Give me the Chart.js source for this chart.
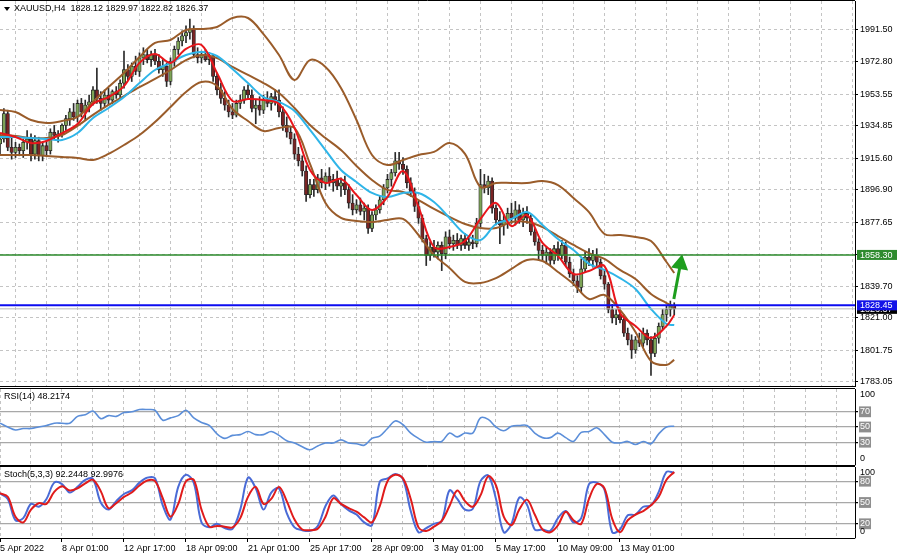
<!DOCTYPE html>
<html>
<head>
<meta charset="utf-8">
<title>XAUUSD H4</title>
<script src="https://cdn.jsdelivr.net/npm/chart.js@4.4.1/dist/chart.umd.min.js"></script>
<style>
  html, body { margin: 0; padding: 0; background: #fff; }
  #wrap { position: relative; width: 900px; height: 560px; overflow: hidden; }
  .pane { position: absolute; left: 0; width: 900px; }
</style>
</head>
<body>
<div id="wrap">
  <div class="pane" style="top:0;height:387px"><canvas id="price"></canvas></div>
  <div class="pane" style="top:388px;height:78px"><canvas id="rsi"></canvas></div>
  <div class="pane" style="top:466px;height:94px"><canvas id="stoch"></canvas></div>
</div>
<script>
// captions
const symbolName = 'XAUUSD,H4';
const rsiCaption = 'RSI(14) 48.2174';
const stochCaption = 'Stoch(5,3,3) 92.2448 92.9976';

// time axis labels, one every 16 bars
const xTickLabels = ['5 Apr 2022', '8 Apr 01:00', '12 Apr 17:00', '18 Apr 09:00', '21 Apr 01:00',
  '25 Apr 17:00', '28 Apr 09:00', '3 May 01:00', '5 May 17:00', '10 May 09:00', '13 May 01:00'];
const barsPerLabel = 16;
const barsPerGrid = 8;
const windowBars = 220.65; // bars that fit in the window (chart shift leaves room on the right)

const priceTicks = [1991.50, 1972.80, 1953.55, 1934.85, 1915.60, 1896.90, 1877.65, 1858.30,
  1839.70, 1821.00, 1801.75, 1783.05];
const priceMin = 1780.68;
const priceMax = 2008.67;
const rsiLevels = [30, 50, 70];
const stochLevels = [20, 50, 80];

// H4 candles
const opens = [
  1924, 1927, 1942, 1922, 1919, 1922, 1920, 1925, 1927, 1918,
  1926, 1917, 1923, 1920, 1931, 1929, 1930, 1935, 1939, 1943,
  1940, 1948, 1943, 1947, 1949, 1956, 1951, 1948, 1953, 1950,
  1955, 1953, 1960, 1968, 1964, 1970, 1967, 1975, 1977, 1974,
  1977, 1973, 1968, 1970, 1961, 1973, 1980, 1985, 1988, 1990,
  1992, 1977, 1975, 1977, 1974, 1976, 1964, 1956, 1951, 1947,
  1943, 1941, 1948, 1950, 1956, 1953, 1945, 1947, 1944, 1950,
  1948, 1952, 1950, 1943, 1935, 1931, 1927, 1918, 1914, 1908,
  1894, 1900, 1897, 1904, 1901, 1905, 1901, 1903, 1899, 1901,
  1897, 1889, 1885, 1888, 1884, 1886, 1874, 1882, 1885, 1891,
  1898, 1903, 1907, 1914, 1912, 1909, 1901, 1895, 1887, 1880,
  1868, 1858, 1863, 1860, 1864, 1859, 1869, 1865, 1867, 1864,
  1868, 1864, 1866, 1865, 1877, 1900, 1898, 1902, 1886, 1879,
  1876, 1879, 1883, 1880, 1885, 1879, 1883, 1880, 1872, 1866,
  1861, 1858, 1860, 1855, 1862, 1858, 1864, 1854, 1847, 1843,
  1839, 1850, 1857, 1855, 1858, 1854, 1846, 1841, 1826, 1821,
  1823, 1820, 1812, 1808, 1802, 1808, 1806, 1812, 1808, 1800,
  1809, 1816, 1823, 1826, 1828.12
];
const highs = [
  1930, 1945, 1944, 1928, 1925, 1924, 1927, 1932, 1930, 1929,
  1928, 1925, 1926, 1933, 1935, 1932, 1936, 1941, 1945, 1948,
  1950, 1951, 1950, 1953, 1958, 1969, 1955, 1956, 1957, 1956,
  1958, 1962, 1979, 1971, 1972, 1976, 1978, 1981, 1980, 1979,
  1980, 1977, 1974, 1972, 1975, 1982, 1987, 1991, 1994, 1998,
  1994, 1981, 1979, 1980, 1978, 1977, 1966, 1960, 1955, 1950,
  1948, 1950, 1953, 1958, 1959, 1956, 1950, 1952, 1953, 1955,
  1954, 1956, 1956, 1946, 1940, 1934, 1930, 1922, 1917, 1911,
  1903, 1903, 1906, 1909, 1907, 1910, 1906, 1908, 1904, 1905,
  1900, 1894, 1891, 1892, 1889, 1888, 1884, 1888, 1893, 1900,
  1906, 1909, 1919, 1919, 1916, 1911, 1904, 1898, 1890, 1882,
  1870, 1866, 1867, 1866, 1866, 1872, 1873, 1870, 1871, 1870,
  1871, 1869, 1870, 1880, 1909, 1906, 1905, 1904, 1888, 1884,
  1882, 1886, 1889, 1890, 1888, 1886, 1887, 1882, 1874, 1868,
  1864, 1863, 1862, 1864, 1866, 1867, 1866, 1857, 1850, 1846,
  1856, 1860, 1862, 1861, 1862, 1856, 1849, 1842, 1829, 1826,
  1827, 1823, 1815, 1811, 1810, 1812, 1815, 1814, 1810, 1812,
  1818, 1826, 1828, 1831, 1829.97
];
const lows = [
  1918, 1925, 1920, 1915, 1916, 1917, 1916, 1921, 1914, 1915,
  1914, 1914, 1917, 1918, 1927, 1925, 1928, 1932, 1935, 1938,
  1937, 1940, 1938, 1943, 1947, 1948, 1944, 1946, 1947, 1948,
  1951, 1951, 1957, 1962, 1961, 1965, 1964, 1971, 1972, 1970,
  1971, 1966, 1964, 1958, 1959, 1970, 1977, 1982, 1984, 1986,
  1975, 1972, 1972, 1973, 1971, 1961, 1953, 1948, 1944, 1940,
  1939, 1940, 1945, 1948, 1951, 1943, 1936, 1941, 1942, 1946,
  1944, 1947, 1940, 1932, 1928, 1924, 1915, 1911, 1905, 1890,
  1892, 1893, 1895, 1898, 1897, 1899, 1896, 1897, 1893, 1894,
  1886, 1882, 1883, 1882, 1879, 1871, 1872, 1879, 1883, 1888,
  1895, 1899, 1905, 1909, 1906, 1898, 1893, 1884, 1877, 1866,
  1852, 1855, 1857, 1856, 1849, 1856, 1862, 1861, 1862, 1861,
  1862, 1861, 1862, 1863, 1875, 1895, 1894, 1883, 1876, 1865,
  1870, 1874, 1877, 1876, 1877, 1875, 1877, 1870, 1864, 1855,
  1855, 1853, 1852, 1853, 1855, 1856, 1852, 1845, 1840, 1836,
  1836, 1848, 1852, 1851, 1852, 1844, 1838, 1824, 1818, 1817,
  1818, 1810, 1805, 1797, 1800, 1804, 1804, 1805, 1787, 1798,
  1806, 1814, 1819, 1822, 1822.82
];
const closes = [
  1927, 1942, 1922, 1919, 1922, 1920, 1925, 1927, 1918, 1926,
  1917, 1923, 1920, 1931, 1929, 1930, 1935, 1939, 1943, 1940,
  1948, 1943, 1947, 1949, 1956, 1951, 1948, 1953, 1950, 1955,
  1953, 1960, 1968, 1964, 1970, 1967, 1975, 1977, 1974, 1977,
  1973, 1968, 1970, 1961, 1973, 1980, 1985, 1988, 1990, 1992,
  1977, 1975, 1977, 1974, 1976, 1964, 1956, 1951, 1947, 1943,
  1941, 1948, 1950, 1956, 1953, 1945, 1947, 1944, 1950, 1948,
  1952, 1950, 1943, 1935, 1931, 1927, 1918, 1914, 1908, 1894,
  1900, 1897, 1904, 1901, 1905, 1901, 1903, 1899, 1901, 1897,
  1889, 1885, 1888, 1884, 1886, 1874, 1882, 1885, 1891, 1898,
  1903, 1907, 1914, 1912, 1909, 1901, 1895, 1887, 1880, 1868,
  1858, 1863, 1860, 1864, 1859, 1869, 1865, 1867, 1864, 1868,
  1864, 1866, 1865, 1877, 1900, 1898, 1902, 1886, 1879, 1876,
  1879, 1883, 1880, 1885, 1879, 1883, 1880, 1872, 1866, 1861,
  1858, 1860, 1855, 1862, 1858, 1864, 1854, 1847, 1843, 1839,
  1850, 1857, 1855, 1858, 1854, 1846, 1841, 1826, 1821, 1823,
  1820, 1812, 1808, 1802, 1808, 1806, 1812, 1808, 1800, 1809,
  1816, 1823, 1826, 1828.12, 1826.37
];

// horizontal levels and the drawn arrow
const levelGreen = 1858.30;
const levelBlue = 1828.45;
const bidPrice = 1826.37;
const arrowBars = [173.9, 175.6];
const arrowPrices = [1832.2, 1852.9];

// Bollinger bands and moving averages, read every 4 bars (last one at the last bar)
const bbUpper = [1944.1, 1942.9, 1938.2, 1936.4, 1937.6, 1940.0, 1948.9, 1957.7, 1966.0, 1975.5,
  1983.8, 1985.6, 1991.5, 1992.1, 1993.3, 1998.6, 1998.6, 1989.1, 1976.7, 1961.9,
  1973.7, 1969.6, 1957.2, 1938.2, 1917.5, 1911.6, 1914.5, 1917.5, 1919.3, 1924.6,
  1918.1, 1898.5, 1900.9, 1900.9, 1900.9, 1902.1, 1899.7, 1892.0, 1883.7, 1870.7,
  1870.1, 1868.9, 1866.5, 1854.1, 1847.6];
const bbMiddle = [1929.3, 1928.7, 1927.5, 1927.5, 1929.3, 1934.7, 1941.2, 1947.1, 1952.4, 1957.7,
  1962.5, 1967.8, 1973.7, 1976.7, 1974.9, 1969.6, 1964.9, 1960.1, 1954.2, 1945.3,
  1935.2, 1927.5, 1920.4, 1911.0, 1902.7, 1896.8, 1895.6, 1890.8, 1885.5, 1880.8,
  1876.6, 1874.2, 1874.2, 1877.8, 1877.8, 1874.8, 1869.5, 1864.2, 1859.4, 1855.9,
  1849.4, 1844.0, 1835.2, 1829.8, 1827.5];
const bbLower = [1917.5, 1917.5, 1917.5, 1916.9, 1916.3, 1915.7, 1914.5, 1918.1, 1923.4, 1929.3,
  1937.0, 1945.9, 1954.8, 1960.7, 1958.3, 1944.7, 1937.6, 1931.7, 1933.5, 1933.5,
  1912.2, 1889.1, 1880.2, 1878.4, 1877.8, 1879.0, 1879.6, 1870.1, 1858.3, 1850.6,
  1842.3, 1841.7, 1844.6, 1850.0, 1855.3, 1854.7, 1848.2, 1841.1, 1832.2, 1834.6,
  1825.7, 1812.6, 1795.5, 1793.1, 1796.1];
const maFast = [1930.5, 1928.1, 1924.6, 1925.8, 1930.5, 1935.8, 1947.7, 1951.8, 1958.3, 1972.0,
  1977.3, 1972.0, 1980.3, 1982.6, 1966.0, 1949.5, 1950.6, 1950.0, 1947.7, 1933.5,
  1908.6, 1900.9, 1903.3, 1893.8, 1884.9, 1892.6, 1908.0, 1886.7, 1863.0, 1863.0,
  1866.5, 1879.6, 1889.1, 1875.4, 1881.9, 1865.4, 1857.7, 1847.0, 1848.8, 1851.7,
  1823.9, 1816.2, 1809.1, 1816.2, 1822.7];
const maSlow = [1928.1, 1928.1, 1927.5, 1927.0, 1926.4, 1930.5, 1939.4, 1945.3, 1951.8, 1960.1,
  1967.8, 1972.0, 1976.7, 1978.5, 1976.1, 1968.4, 1960.1, 1951.8, 1948.9, 1943.5,
  1932.3, 1920.4, 1908.6, 1901.5, 1895.0, 1892.6, 1895.0, 1895.0, 1889.6, 1880.2,
  1870.7, 1867.1, 1876.6, 1879.6, 1883.7, 1876.0, 1867.7, 1861.2, 1853.0, 1849.4,
  1844.6, 1838.1, 1826.3, 1817.4, 1816.8];

// oscillators, read every 2 bars
const rsiValues = [55, 50, 46, 48, 48, 50, 52, 55, 55, 55,
  64, 66, 71, 61, 65, 64, 69, 70, 73, 73,
  72, 59, 62, 65, 72, 62, 56, 52, 41, 35,
  39, 40, 44, 40, 40, 44, 39, 32, 29, 24,
  20, 25, 29, 29, 33, 29, 28, 26, 35, 38,
  48, 58, 53, 42, 35, 30, 31, 31, 42, 37,
  42, 42, 62, 60, 50, 45, 51, 52, 52, 42,
  36, 36, 42, 36, 31, 43, 44, 49, 40, 30,
  29, 31, 27, 31, 28, 41, 50, 51];
const stochMain = [63, 55, 25, 28, 48, 44, 55, 78, 76, 64,
  72, 82, 83, 50, 40, 52, 62, 67, 78, 85,
  84, 46, 26, 72, 89, 78, 22, 15, 20, 14,
  13, 40, 85, 70, 40, 64, 70, 35, 15, 11,
  10, 17, 45, 60, 48, 39, 33, 22, 18, 79,
  84, 90, 83, 38, 8, 14, 20, 24, 67, 55,
  40, 41, 80, 88, 55, 8, 20, 57, 47, 12,
  12, 10, 28, 38, 22, 28, 76, 78, 68, 8,
  12, 32, 33, 44, 46, 65, 93, 92];
const stochSignal = [63, 58, 30, 22, 40, 49, 48, 65, 73, 67,
  70, 77, 82, 66, 42, 49, 58, 64, 74, 81,
  80, 56, 30, 48, 80, 82, 40, 16, 17, 16,
  15, 28, 58, 72, 48, 55, 72, 52, 26, 12,
  11, 13, 30, 56, 48, 42, 37, 29, 22, 45,
  80, 89, 84, 55, 15, 10, 16, 24, 45, 67,
  52, 44, 60, 87, 74, 30, 18, 40, 54, 33,
  12, 8, 18, 37, 25, 20, 55, 76, 70, 27,
  8, 25, 33, 38, 46, 58, 82, 93];

// bar numbers the sampled series belong to
const lastBar = closes.length - 1;
const bandBars = [];
for (let b = 0; b < lastBar; b += 4) bandBars.push(b);
bandBars.push(lastBar);
const oscBars = [];
for (let b = 0; b <= lastBar; b += 2) oscBars.push(b);
const gridBars = [];
for (let b = 0; b < windowBars; b += barsPerGrid) gridBars.push(b);

Chart.defaults.font.family = '"Liberation Sans", Arial, sans-serif';
Chart.defaults.font.size = 9;
Chart.defaults.color = '#000';

function toPoints(bars, values) {
  return values.map((v, i) => ({ x: bars[i], y: v }));
}
function flatLine(price) {
  return [{ x: 0, y: price }, { x: windowBars, y: price }];
}
function lineSet(data, color, width, order) {
  return { type: 'line', data: data, borderColor: color, borderWidth: width,
    pointRadius: 0, tension: 0.35, order: order };
}
function labelAt(v) {
  const k = v / barsPerLabel;
  return Number.isInteger(k) && k < xTickLabels.length ? xTickLabels[k] : '';
}
// the axes must not push the plot area inwards
function noPadding(s) {
  s.paddingTop = 0; s.paddingBottom = 0; s.paddingLeft = 0; s.paddingRight = 0;
}

function xScale(withLabels) {
  return {
    type: 'linear', min: 0, max: windowBars, offset: false,
    afterBuildTicks: s => { s.ticks = gridBars.map(v => ({ value: v })); },
    afterFit: s => { s.height = withLabels ? 22 : 0; noPadding(s); },
    grid: {
      color: '#c4c4c4', lineWidth: 1, drawTicks: withLabels, tickLength: 4,
      tickColor: c => (c.tick && labelAt(c.tick.value)) ? '#000' : 'rgba(0,0,0,0)'
    },
    border: { display: false, dash: [3, 3] },
    ticks: { display: withLabels, autoSkip: false, maxRotation: 0, align: 'start', padding: 1,
      callback: v => labelAt(v) }
  };
}

function levelScale(levels) {
  return {
    position: 'right', min: 0, max: 100,
    afterBuildTicks: s => { s.ticks = levels.map(v => ({ value: v })); },
    afterFit: s => { s.width = 45; noPadding(s); },
    grid: { color: '#a8a8a8', lineWidth: 1.3, tickLength: 3, tickColor: '#000' },
    border: { display: true, color: '#000', width: 1 },
    ticks: { padding: 2, autoSkip: false, color: '#fff', showLabelBackdrop: true,
      backdropColor: '#8e8e8e', backdropPadding: { x: 1, y: 0 } }
  };
}

const baseOptions = {
  responsive: true, maintainAspectRatio: false, animation: false, events: [],
  plugins: { legend: { display: false }, tooltip: { enabled: false } }
};

function paneDecor(caption) {
  return {
    id: 'paneDecor',
    afterDraw(chart) {
      const { ctx, chartArea: a } = chart;
      ctx.save();
      ctx.strokeStyle = '#000';
      ctx.lineWidth = 1;
      ctx.beginPath();
      ctx.moveTo(a.left, a.top - 0.5); ctx.lineTo(a.right, a.top - 0.5);
      ctx.moveTo(a.left, a.bottom + 0.5); ctx.lineTo(a.right, a.bottom + 0.5);
      ctx.stroke();
      ctx.fillStyle = '#000';
      ctx.font = '9px "Liberation Sans", Arial, sans-serif';
      ctx.textAlign = 'left';
      ctx.textBaseline = 'top';
      ctx.fillText(caption, a.left + 4, a.top + 3);
      ctx.fillText('100', a.right + 5, a.top + 1);
      ctx.textBaseline = 'bottom';
      ctx.fillText('0', a.right + 5, a.bottom - 2);
      ctx.restore();
    }
  };
}

// header and the coloured price tags of the main window
const priceDecor = {
  id: 'priceDecor',
  afterDraw(chart) {
    const { ctx, chartArea: a, scales: { y } } = chart;
    ctx.save();
    ctx.strokeStyle = '#000';
    ctx.lineWidth = 1;
    ctx.beginPath();
    ctx.moveTo(a.left, a.top - 0.5); ctx.lineTo(a.right, a.top - 0.5);
    ctx.moveTo(a.left, a.bottom + 0.5); ctx.lineTo(a.right, a.bottom + 0.5);
    ctx.stroke();

    ctx.fillStyle = '#000';
    ctx.beginPath();
    ctx.moveTo(a.left + 4, a.top + 6); ctx.lineTo(a.left + 10, a.top + 6); ctx.lineTo(a.left + 7, a.top + 10);
    ctx.fill();
    ctx.font = '9px "Liberation Sans", Arial, sans-serif';
    ctx.textAlign = 'left';
    ctx.textBaseline = 'middle';
    const ohlc = [opens, highs, lows, closes].map(s => s[lastBar].toFixed(2)).join(' ');
    ctx.fillText(symbolName + '  ' + ohlc, a.left + 14, a.top + 8);

    function tag(price, color) {
      const py = y.getPixelForValue(price);
      ctx.fillStyle = color;
      ctx.fillRect(a.right + 2, py - 5, 40, 10);
      ctx.fillStyle = '#fff';
      ctx.fillText(price.toFixed(2), a.right + 5, py + 0.5);
    }
    tag(bidPrice, '#000');
    tag(levelGreen, '#2e8b2e');
    tag(levelBlue, '#1212e8');
    ctx.restore();
  }
};

const bodyColors = opens.map((o, i) => closes[i] >= o ? '#7da457' : '#7a2424');

new Chart(document.getElementById('price'), {
  type: 'line',
  data: {
    datasets: [
      lineSet(flatLine(levelGreen), '#2b8a2b', 1.5, 0),
      lineSet(flatLine(levelBlue), '#0c0cf0', 2, 0),
      lineSet(flatLine(bidPrice), '#b8b8b8', 1, 0),
      {
        type: 'line', data: toPoints(arrowBars, arrowPrices), borderColor: '#1e9e1e', borderWidth: 3,
        pointRadius: [0, 7], pointStyle: 'triangle', pointRotation: 10,
        pointBackgroundColor: '#1e9e1e', pointBorderColor: '#1e9e1e', tension: 0, order: 0
      },
      lineSet(toPoints(bandBars, maFast), '#e8161b', 2, 1),
      lineSet(toPoints(bandBars, maSlow), '#2fb5e8', 2, 1),
      lineSet(toPoints(bandBars, bbUpper), '#9a5c2a', 2, 2),
      lineSet(toPoints(bandBars, bbMiddle), '#9a5c2a', 2, 2),
      lineSet(toPoints(bandBars, bbLower), '#9a5c2a', 2, 2),
      {
        type: 'bar', data: opens.map((o, i) => ({ x: i, y: [o, closes[i]] })),
        backgroundColor: bodyColors, borderColor: '#262626', borderWidth: 0.8, borderSkipped: false,
        barThickness: 3.4, grouped: false, order: 3
      },
      {
        type: 'bar', data: highs.map((h, i) => ({ x: i, y: [lows[i], h] })),
        backgroundColor: '#2a2a2a', borderWidth: 0, barThickness: 1, grouped: false, order: 4
      }
    ]
  },
  options: {
    ...baseOptions,
    layout: { autoPadding: false, padding: { top: 1, bottom: 1, left: 0, right: 0 } },
    scales: {
      x: xScale(false),
      y: {
        position: 'right', min: priceMin, max: priceMax,
        afterBuildTicks: s => { s.ticks = priceTicks.map(v => ({ value: v })); },
        afterFit: s => { s.width = 45; noPadding(s); },
        grid: { color: '#c4c4c4', lineWidth: 1, tickLength: 3, tickColor: '#000' },
        border: { display: true, color: '#000', width: 1, dash: [3, 3] },
        ticks: { padding: 2, autoSkip: false, callback: v => Number(v).toFixed(2) }
      }
    }
  },
  plugins: [priceDecor]
});

new Chart(document.getElementById('rsi'), {
  type: 'line',
  data: {
    datasets: [lineSet(toPoints(oscBars, rsiValues), '#5b8ed9', 1.6, 0)]
  },
  options: {
    ...baseOptions,
    layout: { autoPadding: false, padding: { top: 1, bottom: 1, left: 0, right: 0 } },
    scales: { x: xScale(false), y: levelScale(rsiLevels) }
  },
  plugins: [paneDecor(rsiCaption)]
});

new Chart(document.getElementById('stoch'), {
  type: 'line',
  data: {
    datasets: [
      lineSet(toPoints(oscBars, stochSignal), '#e01b1b', 2, 0),
      lineSet(toPoints(oscBars, stochMain), '#4a6bd6', 2, 1)
    ]
  },
  options: {
    ...baseOptions,
    layout: { autoPadding: false, padding: { top: 1, bottom: 0, left: 0, right: 0 } },
    scales: { x: xScale(true), y: levelScale(stochLevels) }
  },
  plugins: [paneDecor(stochCaption)]
});
</script>
</body>
</html>
